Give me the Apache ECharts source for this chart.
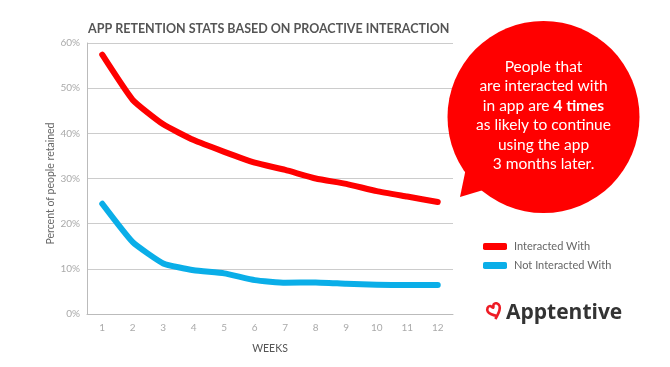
<!DOCTYPE html>
<html>
<head>
<meta charset="utf-8">
<script src="https://cdn.jsdelivr.net/npm/echarts@6/dist/echarts.min.js"></script>
<style>html,body{margin:0;padding:0;background:#fff}#c{width:670px;height:367px}</style>
</head>
<body>
<div id="c"></div>
<script>
const weeks = ['1','2','3','4','5','6','7','8','9','10','11','12'];
const interacted = [57.4, 47.4, 42.0, 38.5, 35.9, 33.5, 31.9, 30.0, 28.8, 27.2, 26.0, 24.8];
const notInteracted = [24.4, 15.9, 11.2, 9.7, 9.0, 7.5, 6.9, 7.0, 6.7, 6.5, 6.4, 6.4];
const seriesNames = ['Interacted With', 'Not Interacted With'];
const yTicks = {min: 0, max: 60, interval: 10};
const titleText = 'APP RETENTION STATS BASED ON PROACTIVE INTERACTION';
const bubbleLines = ['People that', 'are interacted with', 'in app are {b|4 times}', 'as likely to continue', 'using the app', '3 months later.'];

const chart = echarts.init(document.getElementById('c'), null, {renderer: 'canvas'});
const font = 'Lato, "Open Sans", sans-serif';
chart.setOption({
  animation: false,
  backgroundColor: '#fff',
  title: {
    text: titleText, left: 83, top: 17,
    textStyle: {fontFamily: font, fontSize: 12.5, fontWeight: 'bold', color: '#555'}
  },
  grid: {left: 87, right: 217, top: 43, bottom: 53},
  legend: {
    orient: 'vertical', left: 478, top: 236, itemGap: 8,
    itemWidth: 24, itemHeight: 7, icon: 'roundRect',
    textStyle: {fontFamily: font, fontSize: 11, color: '#666', padding: [0,0,0,2]},
    data: seriesNames
  },
  xAxis: {
    type: 'category', data: weeks, boundaryGap: true,
    name: 'WEEKS', nameLocation: 'middle', nameGap: 29,
    nameTextStyle: {fontFamily: font, fontSize: 10.5, color: '#555'},
    axisLine: {lineStyle: {color: '#bbb', width: 1}},
    axisTick: {show: false},
    axisLabel: {fontFamily: font, fontSize: 10, color: '#aaa', margin: 9}
  },
  yAxis: {
    type: 'value', min: yTicks.min, max: yTicks.max, interval: yTicks.interval,
    name: 'Percent of people retained', nameLocation: 'middle', nameGap: 31, nameRotate: 90,
    nameMoveOverlap: false,
    nameTextStyle: {fontFamily: font, fontSize: 10.5, color: '#666', padding: [0, 10, 0, 0]},
    axisLine: {show: true, lineStyle: {color: '#bbb', width: 1}},
    axisTick: {show: false},
    axisLabel: {fontFamily: font, fontSize: 10, color: '#aaa', formatter: '{value}%', margin: 7},
    splitLine: {lineStyle: {color: '#ccc', width: 1}}
  },
  series: [
    {name: seriesNames[0], type: 'line', data: interacted, showSymbol: false, symbol: 'none', smooth: 0.15,
     color: '#ff0000', lineStyle: {width: 6, color: '#ff0000', cap: 'round', join: 'round'}},
    {name: seriesNames[1], type: 'line', data: notInteracted, showSymbol: false, symbol: 'none', smooth: 0.15,
     color: '#0aaee8', lineStyle: {width: 6, color: '#0aaee8', cap: 'round', join: 'round'}}
  ],
  graphic: [
    {type: 'polygon', shape: {points: [[466, 168], [460, 197], [490, 188]]}, style: {fill: '#ff0000'}, z: 10},
    {type: 'circle', shape: {cx: 543.5, cy: 117, r: 96}, style: {fill: '#ff0000'}, z: 10},
    {type: 'text', x: 543.5, y: 57, z: 11,
     style: {text: bubbleLines.join('\n'), align: 'center', verticalAlign: 'top',
       fontFamily: font, fontSize: 15.5, lineHeight: 19.5, fill: '#fff',
       rich: {b: {fontFamily: font, fontSize: 15.5, fontWeight: 'bold', fill: '#fff', lineHeight: 19.5}}}},
    {type: 'polyline', x: 494.5, y: 310.5, rotation: 0.45, z: 11,
     shape: {points: [[0,6],[-4.5,2],[-6.5,-2],[-5,-5.5],[-2,-6],[0,-3],[2,-6],[5,-5.5],[6.5,-2],[4.5,2],[0,6],[-3,8]], smooth: 0.35},
     style: {fill: 'none', stroke: '#ee1c25', lineWidth: 2.6}},
    {type: 'text', x: 506, y: 313, z: 11,
     style: {text: 'Apptentive', align: 'left', verticalAlign: 'middle',
       fontFamily: '"Open Sans", sans-serif', fontSize: 21, fontWeight: 'bold', fill: '#333'}}
  ]
});
</script>
</body>
</html>
